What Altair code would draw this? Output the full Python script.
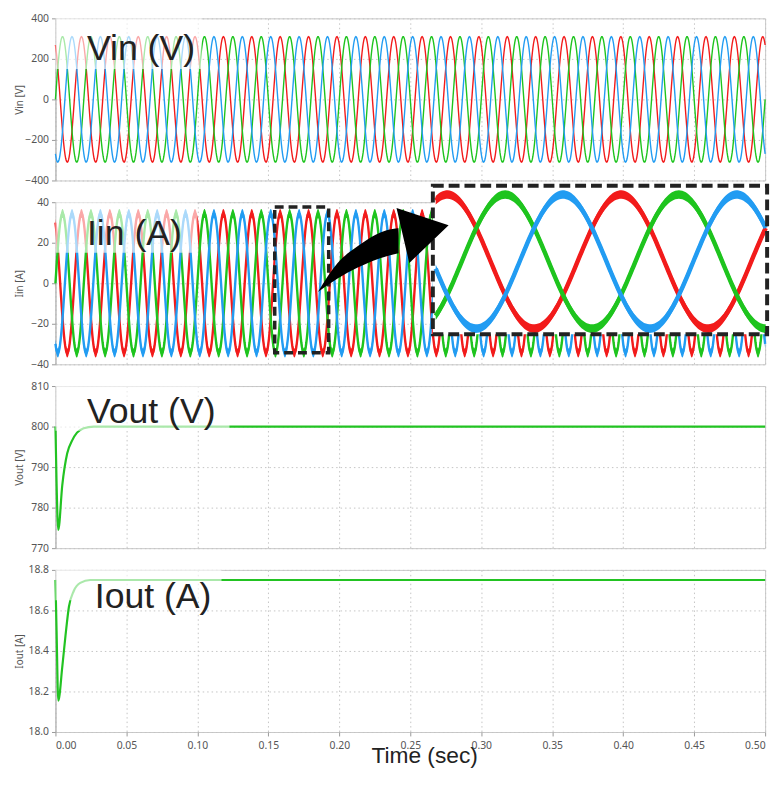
import numpy as np
import pandas as pd
import altair as alt

# ---------------- values ----------------
T_END = 0.5
GRID_FREQ_HZ = 50.0
PHASES = ["A", "B", "C"]
PHASE_COLORS = ["#f21b1b", "#1ec41e", "#229cf2"]
PHASE_ANGLE_DEG = [120, 0, -120]
VIN_PEAK_V = 310
IIN_PEAK_A = 34.5
IIN_RIPPLE_A = 2.2

X_TICKS = [0.0, 0.05, 0.10, 0.15, 0.20, 0.25, 0.30, 0.35, 0.40, 0.45, 0.50]
VIN_TICKS = [-400, -200, 0, 200, 400]
IIN_TICKS = [-40, -20, 0, 20, 40]
VOUT_TICKS = [770, 780, 790, 800, 810]
IOUT_TICKS = [18.0, 18.2, 18.4, 18.6, 18.8]

# DC output transients (start-up dip then settle)
VOUT_T = [0.0, 0.0008, 0.002, 0.0048, 0.0083, 0.0118, 0.0152, 0.0199, 0.027, 0.035, 0.5]
VOUT_V = [800.0, 786.0, 774.5, 785.5, 793.4, 796.6, 798.5, 799.6, 800.0, 800.0, 800.0]
IOUT_T = [0.0, 0.0008, 0.002, 0.0048, 0.0071, 0.0095, 0.0129, 0.0175, 0.0245, 0.035, 0.5]
IOUT_A = [18.75, 18.5, 18.155, 18.32, 18.477, 18.618, 18.696, 18.736, 18.75, 18.75, 18.75]

PANEL_LABELS = ["Vin (V)", "Iin (A)", "Vout (V)", "Iout (A)"]
LABEL_T = [0.0222, 0.0222, 0.0222, 0.0277]
LABEL_V = [196, 19, 800.8, 18.61]
FADE_T_END = [0.103, 0.100, 0.1226, 0.117]
FADE_V_BOTTOM = [150, 15, 799, 18.65]

# zoom inset: time window shown, and where it sits in the Iin panel
ZOOM_T = [0.157, 0.195]
ZOOM_BOX_T = [0.1545, 0.1925]
ZOOM_BOX_V = [37.6, -34.3]
INSET_T = [0.2659, 0.5014]
INSET_V = [48.1, -25.2]
INSET_CENTER_V = 10.7
INSET_GAIN = 0.959

# curved arrow (Iin panel coordinates)
ARROW_SHAFT_T = [0.1849, 0.1988, 0.2126, 0.2334, 0.2417]
ARROW_SHAFT_TOP = [-4.29, 10.0, 18.1, 26.2, 27.1]
ARROW_SHAFT_BOT = [-4.29, 2.4, 7.6, 13.3, 14.8]
ARROW_HEAD_T = [0.2403, 0.2493, 0.2770]
ARROW_HEAD_TOP = [37.1, 35.0, 28.6]
ARROW_HEAD_BOT = [37.1, 10.0, 28.6]

# ---------------- tables ----------------
t = np.round(np.arange(0, T_END + 1e-9, 0.0004), 6)
rows_v, rows_i = [], []
for ph, ang in zip(PHASES, PHASE_ANGLE_DEG):
    w = np.sin(2 * np.pi * GRID_FREQ_HZ * t + np.deg2rad(ang))
    rows_v.append(pd.DataFrame({"t": t, "v": VIN_PEAK_V * w, "phase": ph}))
    i = IIN_PEAK_A * w
    rows_i.append(pd.DataFrame({"t": t, "v": i, "lo": i - IIN_RIPPLE_A,
                                "hi": i + IIN_RIPPLE_A, "phase": ph}))
vin_df = pd.concat(rows_v, ignore_index=True)
iin_df = pd.concat(rows_i, ignore_index=True)

tz = np.round(np.arange(ZOOM_T[0], ZOOM_T[1] + 1e-9, 0.0002), 6)
rows_z = []
for ph, ang in zip(PHASES, PHASE_ANGLE_DEG):
    i = IIN_PEAK_A * np.sin(2 * np.pi * GRID_FREQ_HZ * tz + np.deg2rad(ang))
    xt = INSET_T[0] + 0.002 + (tz - ZOOM_T[0]) / (ZOOM_T[1] - ZOOM_T[0]) * (INSET_T[1] - INSET_T[0] - 0.003)
    rows_z.append(pd.DataFrame({
        "t": xt,
        "v": INSET_CENTER_V + INSET_GAIN * i,
        "lo": INSET_CENTER_V + INSET_GAIN * (i - IIN_RIPPLE_A),
        "hi": INSET_CENTER_V + INSET_GAIN * (i + IIN_RIPPLE_A),
        "phase": ph}))
zoom_df = pd.concat(rows_z, ignore_index=True)

vout_df = pd.DataFrame({"t": VOUT_T, "v": VOUT_V})
iout_df = pd.DataFrame({"t": IOUT_T, "v": IOUT_A})

# ---------------- chart ----------------
W, H = 718, 164
GREEN = "#22c322"
XS = alt.Scale(domain=[0, T_END], nice=False, zero=False)
COLOR = alt.Color("phase:N", scale=alt.Scale(domain=PHASES, range=PHASE_COLORS), legend=None)

x_axis_hidden = alt.Axis(values=X_TICKS, labels=False, ticks=False, domain=False, title=None, grid=True)
x_axis_bottom = alt.Axis(
    values=X_TICKS, format=".2f", grid=True, domain=False, tickSize=4, labelPadding=5,
    title="Time (sec)", titleFont="Liberation Sans", titleFontSize=23, titleColor="#222",
    titleFontWeight="normal", titleX=373, titleY=31, titleBaseline="alphabetic",
    titleAlign="center", titleAngle=0)


def y_axis(title, ticks, fmt):
    return alt.Axis(values=ticks, format=fmt, title=title, grid=True, tickSize=4, labelPadding=3,
                    titleX=-36, titleY=H / 2, titleAngle=270, titleAlign="center",
                    titleBaseline="middle")


class Panel:
    def __init__(self, ydomain, xaxis, yaxis):
        self.ys = alt.Scale(domain=ydomain, nice=False, zero=False)
        self.xa = xaxis
        self.ya = yaxis

    def X(self, field):
        return alt.X(f"{field}:Q", scale=XS, axis=self.xa)

    def Y(self, field):
        return alt.Y(f"{field}:Q", scale=self.ys, axis=self.ya)

    def overlay(self, k, ytop):
        fade = alt.Chart(pd.DataFrame({"t": [0.0], "t2": [FADE_T_END[k]], "v": [ytop],
                                       "v2": [FADE_V_BOTTOM[k]]})).mark_rect(
            color="white", opacity=0.62).encode(x=self.X("t"), x2="t2:Q", y=self.Y("v"), y2="v2:Q")
        text = alt.Chart(pd.DataFrame({"t": [LABEL_T[k]], "v": [LABEL_V[k]],
                                       "s": [PANEL_LABELS[k]]})).mark_text(
            align="left", baseline="alphabetic", font="Liberation Sans", fontSize=36, color="#222"
        ).encode(x=self.X("t"), y=self.Y("v"), text="s:N")
        return [fade, text]


# Panel 1: Vin
A = Panel([-400, 400], x_axis_hidden, y_axis("Vin [V]", VIN_TICKS, "d"))
p1_lines = alt.Chart(vin_df).mark_line(strokeWidth=1.4).encode(x=A.X("t"), y=A.Y("v"), color=COLOR)
p1 = alt.layer(p1_lines, *A.overlay(0, 400)).properties(width=W, height=H)

# Panel 2: Iin with zoom inset
B = Panel([-40, 40], x_axis_hidden, y_axis("Iin [A]", IIN_TICKS, "d"))
p2_band = alt.Chart(iin_df).mark_area(opacity=1).encode(x=B.X("t"), y=B.Y("lo"), y2="hi:Q", color=COLOR)
p2_lines = alt.Chart(iin_df).mark_line(strokeWidth=2.4).encode(x=B.X("t"), y=B.Y("v"), color=COLOR)
small_box = alt.Chart(pd.DataFrame({"t": [ZOOM_BOX_T[0]], "t2": [ZOOM_BOX_T[1]],
                                    "v": [ZOOM_BOX_V[0]], "v2": [ZOOM_BOX_V[1]]})).mark_rect(
    fillOpacity=0, stroke="#222", strokeWidth=3.5, strokeDash=[9, 5]).encode(
    x=B.X("t"), x2="t2:Q", y=B.Y("v"), y2="v2:Q")
box_df = pd.DataFrame({"t": [INSET_T[0]], "t2": [INSET_T[1]], "v": [INSET_V[0]], "v2": [INSET_V[1]]})
inset_bg = alt.Chart(box_df).mark_rect(color="white", opacity=1).encode(
    x=B.X("t"), x2="t2:Q", y=B.Y("v"), y2="v2:Q")
inset_band = alt.Chart(zoom_df).mark_area(opacity=1).encode(
    x=B.X("t"), y=B.Y("lo"), y2="hi:Q", color=COLOR)
inset_lines = alt.Chart(zoom_df).mark_line(strokeWidth=4.5).encode(x=B.X("t"), y=B.Y("v"), color=COLOR)
inset_border = alt.Chart(box_df).mark_rect(
    fillOpacity=0, stroke="#222", strokeWidth=4, strokeDash=[11, 5]).encode(
    x=B.X("t"), x2="t2:Q", y=B.Y("v"), y2="v2:Q")
shaft = alt.Chart(pd.DataFrame({"t": ARROW_SHAFT_T, "v": ARROW_SHAFT_TOP, "v2": ARROW_SHAFT_BOT})).mark_area(
    color="black", opacity=1, interpolate="monotone").encode(x=B.X("t"), y=B.Y("v"), y2="v2:Q")
head = alt.Chart(pd.DataFrame({"t": ARROW_HEAD_T, "v": ARROW_HEAD_TOP, "v2": ARROW_HEAD_BOT})).mark_area(
    color="black", opacity=1).encode(x=B.X("t"), y=B.Y("v"), y2="v2:Q")
p2 = alt.layer(p2_band, p2_lines, *B.overlay(1, 40), small_box, inset_bg, inset_band,
               inset_lines, inset_border, shaft, head).properties(width=W, height=H)

# Panel 3: Vout
C = Panel([770, 810], x_axis_hidden, y_axis("Vout [V]", VOUT_TICKS, "d"))
p3_line = alt.Chart(vout_df).mark_line(color=GREEN, strokeWidth=2.2, interpolate="monotone").encode(
    x=C.X("t"), y=C.Y("v"))
p3 = alt.layer(p3_line, *C.overlay(2, 810)).properties(width=W, height=H)

# Panel 4: Iout
D = Panel([18.0, 18.8], x_axis_bottom, y_axis("Iout [A]", IOUT_TICKS, ".1f"))
p4_line = alt.Chart(iout_df).mark_line(color=GREEN, strokeWidth=2.2, interpolate="monotone").encode(
    x=D.X("t"), y=D.Y("v"))
p4 = alt.layer(p4_line, *D.overlay(3, 18.8)).properties(width=W, height=H)

chart = alt.vconcat(p1, p2, p3, p4, spacing=22, bounds="flush").properties(
    padding={"left": 6, "top": 0, "right": 0, "bottom": 0}
).configure_view(stroke="#c8c8c8", strokeWidth=1).configure_axis(
    labelFont="Noto Sans", labelFontSize=10.5, labelColor="#555", tickColor="#999",
    domainColor="#b0b0b0", gridColor="#c4c4c4", gridDash=[1.5, 3], titleFont="Noto Sans",
    titleFontSize=10, titleColor="#555", titleFontWeight="normal")

chart.save("out.html", embed_options={"renderer": "svg", "actions": False})
